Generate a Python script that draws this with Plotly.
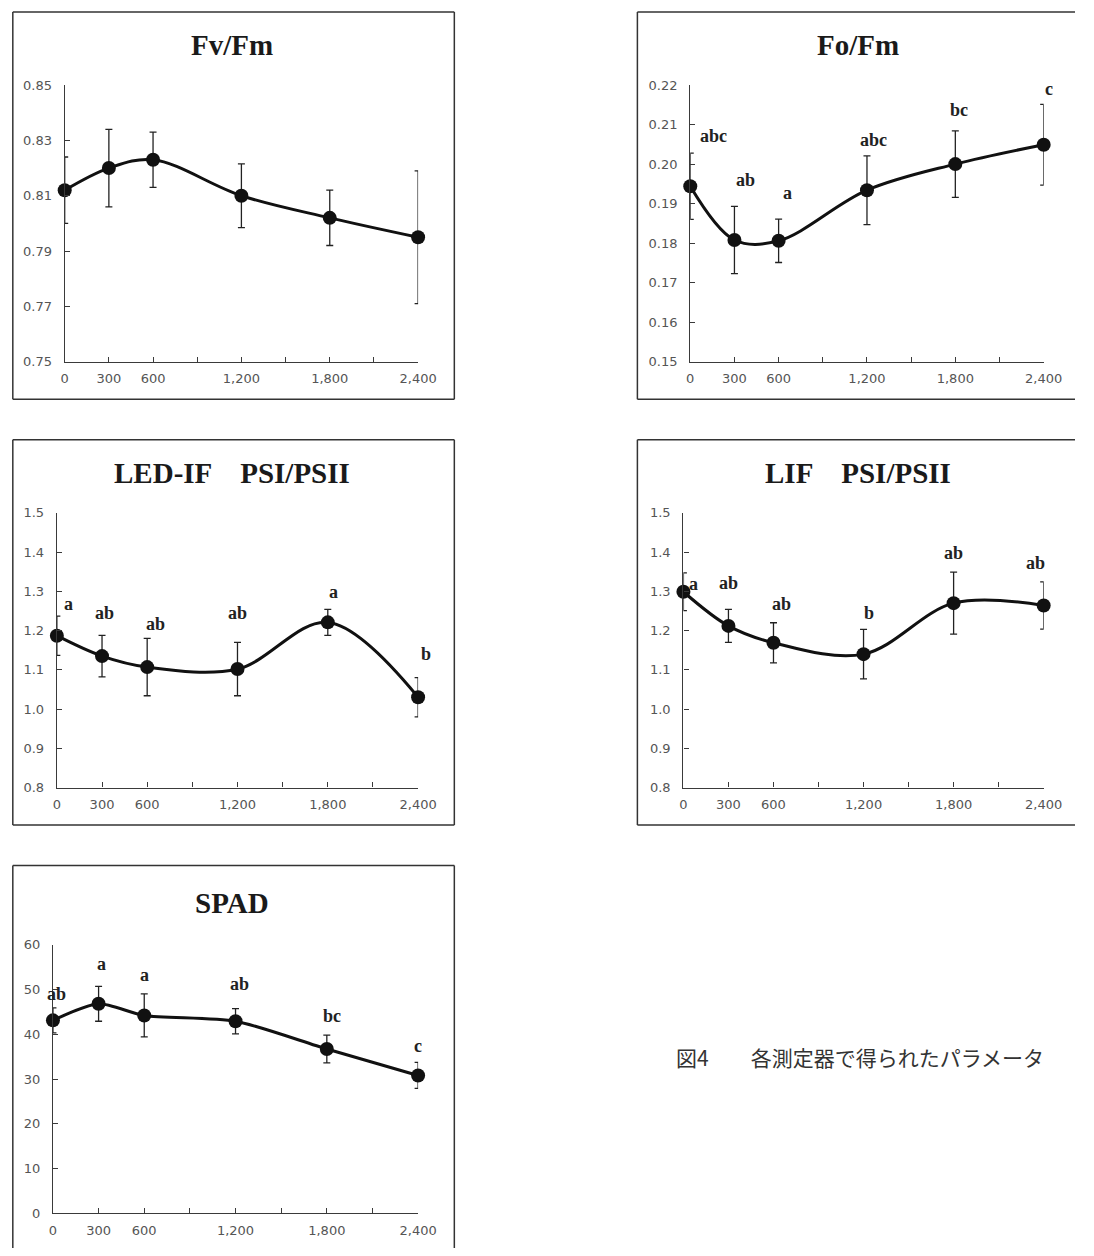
import plotly.graph_objects as go

W, H = 1094, 1256

# ---------------- data ----------------
doses = [0, 300, 600, 1200, 1800, 2400]
x_tickvals = [0, 300, 600, 900, 1200, 1500, 1800, 2100, 2400]
x_ticktext = ["0", "300", "600", "", "1,200", "", "1,800", "", "2,400"]

fvfm = [0.812, 0.820, 0.823, 0.810, 0.802, 0.795]
fvfm_err = [0.012, 0.014, 0.010, 0.0115, 0.010, 0.024]
fvfm_letters = []

fofm = [0.1944, 0.1808, 0.1806, 0.1934, 0.2000, 0.2049]
fofm_err = [0.0084, 0.0085, 0.0055, 0.0087, 0.0084, 0.0102]
fofm_letters = ["abc", "ab", "a", "abc", "bc", "c"]

led = [1.187, 1.135, 1.107, 1.102, 1.221, 1.030]
led_err = [0.050, 0.053, 0.073, 0.068, 0.033, 0.050]
led_letters = ["a", "ab", "ab", "ab", "a", "b"]

lif = [1.299, 1.212, 1.169, 1.140, 1.270, 1.264]
lif_err = [0.048, 0.042, 0.051, 0.063, 0.079, 0.060]
lif_letters = ["a", "ab", "ab", "b", "ab", "ab"]

spad = [43.1, 46.8, 44.2, 42.9, 36.7, 30.8]
spad_err = [2.8, 3.9, 4.8, 2.8, 3.1, 2.9]
spad_letters = ["ab", "a", "a", "ab", "bc", "c"]

titles = ["Fv/Fm", "Fo/Fm", "LED-IF\u3000PSI/PSII", "LIF\u3000PSI/PSII", "SPAD"]
caption = "図4\u3000\u3000各測定器で得られたパラメータ"

# ---------------- layout (pixel geometry) ----------------
def fx(px):
    return px / W

def fy(py):
    return 1 - py / H

# box = (left, top, right, bottom) in page pixels; sides = which borders are drawn
panels = [
    dict(xd=(62, 423), yd=(79, 359), yr=[0.75, 0.85], dt=0.02, fmt=".2f",
         box=(9, 5, 460, 397), sides="ltrb", title=(233, 38),
         y=fvfm, e=fvfm_err, lab=fvfm_letters, off=[], smooth=1.0),
    dict(xd=(701, 1062), yd=(79, 359), yr=[0.15, 0.22], dt=0.01, fmt=".2f",
         box=(647, 5, 1094, 397), sides="ltb", title=(872, 38),
         y=fofm, e=fofm_err, lab=fofm_letters,
         off=[(23, 17), (11, 26), (9, 26), (7, 16), (4, 21), (5, 15)], smooth=1.0),
    dict(xd=(54, 423), yd=(512, 790), yr=[0.8, 1.5], dt=0.1, fmt=".1f",
         box=(9, 438, 460, 828), sides="ltrb", title=(233, 472),
         y=led, e=led_err, lab=led_letters,
         off=[(12, 12), (2, 22), (8, 14), (0, 29), (6, 17), (8, 24)], smooth=1.0),
    dict(xd=(694, 1062), yd=(512, 790), yr=[0.8, 1.5], dt=0.1, fmt=".1f",
         box=(647, 438, 1094, 828), sides="ltb", title=(872, 472),
         y=lif, e=lif_err, lab=lif_letters,
         off=[(10, -11), (0, 26), (8, 19), (5, 16), (0, 19), (-8, 19)], smooth=1.0),
    dict(xd=(50, 423), yd=(949, 1221), yr=[0, 60], dt=10, fmt="d",
         box=(9, 869, 460, 1256), sides="ltr", title=(233, 907),
         y=spad, e=spad_err, lab=spad_letters,
         off=[(4, 14), (3, 22), (0, 19), (4, 25), (5, 19), (0, 16)], smooth=0.7),
]

fig = go.Figure()
shapes = []
annotations = []
axis_color = "#3a3a3a"
tick_font = dict(family="DejaVu Sans", size=13, color="#555555")
serif_bold = "Liberation Serif"
border = dict(color="#333333", width=1.5)

for i, p in enumerate(panels):
    n = "" if i == 0 else str(i + 1)
    xa, ya = "x" + n, "y" + n
    fig.add_trace(go.Scatter(
        x=doses, y=p["y"], xaxis=xa, yaxis=ya, mode="lines+markers",
        line=dict(color="#111111", width=3, shape="spline", smoothing=p["smooth"]),
        marker=dict(color="#111111", size=14, symbol="circle"),
        error_y=dict(type="data", array=p["e"], visible=True,
                     color="#222222", thickness=1.3, width=3.5),
        cliponaxis=False, showlegend=False, hoverinfo="x+y",
    ))
    xkey = "xaxis" + n
    ykey = "yaxis" + n
    fig.layout[xkey] = dict(
        domain=[fx(p["xd"][0]), fx(p["xd"][1])], anchor=ya, range=[0, 2400],
        tickvals=x_tickvals, ticktext=x_ticktext, ticks="inside", ticklen=5,
        tickcolor=axis_color, tickwidth=1.2, showline=True, linecolor=axis_color,
        linewidth=1.3, showgrid=False, zeroline=False, tickfont=tick_font,
        ticklabelstandoff=5, fixedrange=True,
    )
    fig.layout[ykey] = dict(
        domain=[fy(p["yd"][1]), fy(p["yd"][0])], anchor=xa, range=p["yr"],
        dtick=p["dt"], tick0=p["yr"][0], tickformat=p["fmt"], ticks="inside",
        ticklen=5, tickcolor=axis_color, tickwidth=1.2, showline=True,
        linecolor=axis_color, linewidth=1.3, showgrid=False, zeroline=False,
        tickfont=tick_font, ticklabelstandoff=9, fixedrange=True,
    )
    bx0, by0, bx1, by1 = p["box"]
    L, T, R, B = fx(bx0), fy(by0), fx(bx1), fy(by1)
    segs = {"l": (L, B, L, T), "t": (L, T, R, T), "r": (R, T, R, B), "b": (L, B, R, B)}
    for s in p["sides"]:
        x0, y0, x1, y1 = segs[s]
        shapes.append(dict(type="line", xref="paper", yref="paper",
                           x0=x0, y0=y0, x1=x1, y1=y1, line=border))
    annotations.append(dict(
        text="<b>" + titles[i] + "</b>", xref="paper", yref="paper",
        x=fx(p["title"][0]), y=fy(p["title"][1]), xanchor="center", yanchor="middle",
        showarrow=False, font=dict(family=serif_bold, size=29, color="#1a1a1a"),
    ))
    for j, lab in enumerate(p["lab"]):
        dx, dy = p["off"][j]
        annotations.append(dict(
            text="<b>" + lab + "</b>", xref=xa, yref=ya,
            x=doses[j], y=p["y"][j] + p["e"][j], xshift=dx, yshift=dy,
            xanchor="center", yanchor="middle", showarrow=False,
            font=dict(family=serif_bold, size=18, color="#222222"),
        ))

annotations.append(dict(
    text=caption, xref="paper", yref="paper", x=fx(684), y=fy(1063),
    xanchor="left", yanchor="middle", showarrow=False,
    font=dict(family="Noto Sans CJK JP", size=21, color="#333333"),
))

fig.update_layout(
    width=W, height=H, margin=dict(l=0, r=0, t=0, b=0),
    paper_bgcolor="white", plot_bgcolor="white",
    shapes=shapes, annotations=annotations, showlegend=False,
)

post = """
var gd = document.getElementById('{plot_id}');
var css = 'margin:0;padding:0;overflow:hidden;width:100%%;height:100%%;';
document.documentElement.style.cssText = css;
document.body.style.cssText = css;
gd.style.position = 'fixed';
gd.style.left = '0px';
gd.style.top = '0px';
var cw = document.documentElement.clientWidth, ch = document.documentElement.clientHeight;
if (cw > 200 && ch > 200 && (cw !== %d || ch !== %d)) {
  Plotly.relayout(gd, {width: cw, height: ch});
}
""" % (W, H)

fig.write_html("out.html", config={"displayModeBar": False}, post_script=post)
